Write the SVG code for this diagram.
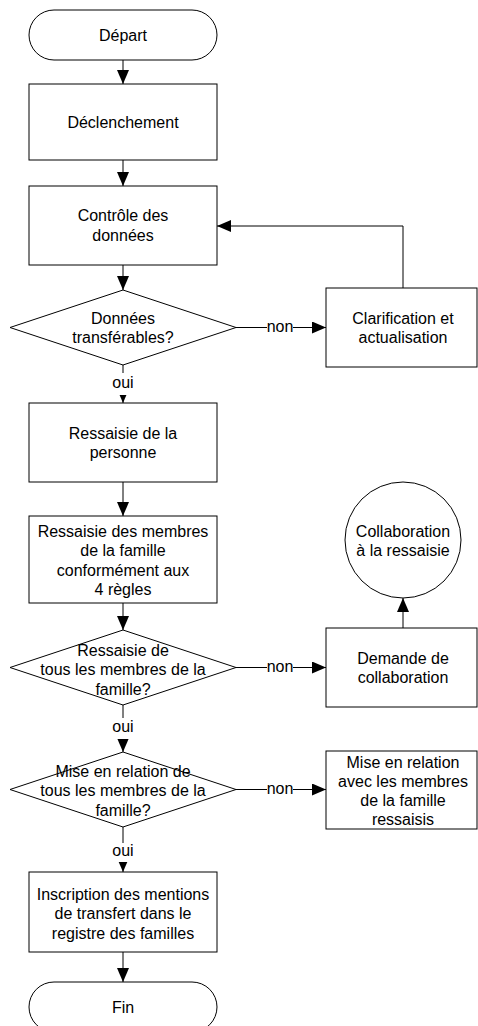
<svg xmlns="http://www.w3.org/2000/svg" width="478" height="1026" viewBox="0 0 478 1026">
<defs>
<style>
.s{fill:#fff;stroke:#000;stroke-width:1}
.t{font-family:"Liberation Sans",Arial,sans-serif;font-size:16px;fill:#000;text-anchor:middle}
.c{fill:none;stroke:#000;stroke-width:1}
.bg{fill:#fff;stroke:none}
</style>
<marker id="ah" markerWidth="14" markerHeight="12" refX="14" refY="6" orient="auto" markerUnits="userSpaceOnUse">
<path d="M0,0 L14,6 L0,12 Z" fill="#000"/>
</marker>
</defs>
<rect width="478" height="1026" fill="#fff"/>
<g id="connectors">
<path class="c" d="M123,60 V84" marker-end="url(#ah)"/>
<path class="c" d="M123,160 V186" marker-end="url(#ah)"/>
<path class="c" d="M123,265 V290" marker-end="url(#ah)"/>
<path class="c" d="M236,327.5 H326" marker-end="url(#ah)"/>
<path class="c" d="M403,288 V226 H217" marker-end="url(#ah)"/>
<path class="c" d="M123,365 V403" marker-end="url(#ah)"/>
<path class="c" d="M123,482 V516" marker-end="url(#ah)"/>
<path class="c" d="M123,603 V630" marker-end="url(#ah)"/>
<path class="c" d="M236,667.5 H326" marker-end="url(#ah)"/>
<path class="c" d="M403,628 V598" marker-end="url(#ah)"/>
<path class="c" d="M123,705 V752" marker-end="url(#ah)"/>
<path class="c" d="M236,789.5 H326" marker-end="url(#ah)"/>
<path class="c" d="M123,827 V872" marker-end="url(#ah)"/>
<path class="c" d="M123,952 V982" marker-end="url(#ah)"/>
<rect class="bg" x="267" y="319" width="26" height="16"/>
<text class="t" x="280" y="332">non</text>
<rect class="bg" x="267" y="659" width="26" height="16"/>
<text class="t" x="280" y="672">non</text>
<rect class="bg" x="267" y="781" width="26" height="16"/>
<text class="t" x="280" y="794">non</text>
<rect class="bg" x="110" y="373" width="26" height="22"/>
<text class="t" x="123" y="388">oui</text>
<rect class="bg" x="110" y="718" width="26" height="21"/>
<text class="t" x="123" y="732">oui</text>
<rect class="bg" x="110" y="843" width="26" height="19"/>
<text class="t" x="123" y="856">oui</text>
</g>
<g id="depart">
<rect class="s" x="29" y="10" width="188" height="50" rx="25" ry="25"/>
<text class="t" x="123" y="41">Départ</text>
</g>
<g id="declenchement">
<rect class="s" x="29" y="84" width="188" height="76"/>
<text class="t" x="123" y="127.5">Déclenchement</text>
</g>
<g id="controle">
<rect class="s" x="29" y="186" width="188" height="79"/>
<text class="t" x="123" y="221">Contrôle des</text>
<text class="t" x="123" y="240.5">données</text>
</g>
<g id="decision1">
<polygon class="s" points="123,290 236,327.5 123,365 10,327.5"/>
<text class="t" x="123" y="323.5">Données</text>
<text class="t" x="123" y="343">transférables?</text>
</g>
<g id="clarification">
<rect class="s" x="326" y="288" width="151" height="79"/>
<text class="t" x="403" y="323.5">Clarification et</text>
<text class="t" x="403" y="343">actualisation</text>
</g>
<g id="ressaisie-personne">
<rect class="s" x="29" y="403" width="188" height="79"/>
<text class="t" x="123" y="438.5">Ressaisie de la</text>
<text class="t" x="123" y="458">personne</text>
</g>
<g id="ressaisie-membres">
<rect class="s" x="29" y="516" width="188" height="87"/>
<text class="t" x="123" y="536.5">Ressaisie des membres</text>
<text class="t" x="123" y="556">de la famille</text>
<text class="t" x="123" y="575.5">conformément aux</text>
<text class="t" x="123" y="595">4 règles</text>
</g>
<g id="collaboration">
<circle class="s" cx="403" cy="540" r="58"/>
<text class="t" x="403" y="536.5">Collaboration</text>
<text class="t" x="403" y="556">à la ressaisie</text>
</g>
<g id="decision2">
<polygon class="s" points="123,630 236,667.5 123,705 10,667.5"/>
<text class="t" x="123" y="655.5">Ressaisie de</text>
<text class="t" x="123" y="675">tous les membres de la</text>
<text class="t" x="123" y="694.5">famille?</text>
</g>
<g id="demande">
<rect class="s" x="326" y="628" width="151" height="79"/>
<text class="t" x="403" y="663.5">Demande de</text>
<text class="t" x="403" y="683">collaboration</text>
</g>
<g id="decision3">
<polygon class="s" points="123,752 236,789.5 123,827 10,789.5"/>
<text class="t" x="123" y="777">Mise en relation de</text>
<text class="t" x="123" y="796">tous les membres de la</text>
<text class="t" x="123" y="815.5">famille?</text>
</g>
<g id="mise-en-relation">
<rect class="s" x="326" y="751" width="151" height="78"/>
<text class="t" x="403" y="767.5">Mise en relation</text>
<text class="t" x="403" y="786.5">avec les membres</text>
<text class="t" x="403" y="805.5">de la famille</text>
<text class="t" x="403" y="824.5">ressaisis</text>
</g>
<g id="inscription">
<rect class="s" x="29" y="872" width="188" height="80"/>
<text class="t" x="123" y="899.5">Inscription des mentions</text>
<text class="t" x="123" y="919">de transfert dans le</text>
<text class="t" x="123" y="938.5">registre des familles</text>
</g>
<g id="fin">
<rect class="s" x="29" y="982" width="188" height="50" rx="25" ry="25"/>
<text class="t" x="123" y="1013">Fin</text>
</g>
</svg>
